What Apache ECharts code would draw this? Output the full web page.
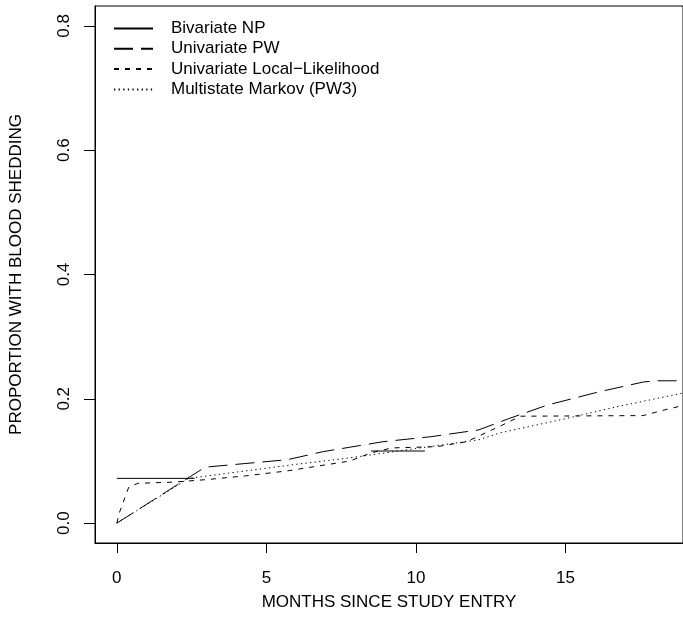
<!DOCTYPE html>
<html>
<head>
<meta charset="utf-8">
<script src="https://cdn.jsdelivr.net/npm/echarts@6/dist/echarts.min.js"></script>
<style>
  html, body { margin: 0; padding: 0; background: #fff; }
  #chart { width: 683px; height: 629px; }
</style>
</head>
<body>
<div id="chart"></div>
<script>
// Cumulative proportion with blood shedding by months since study entry
const seriesNames = [
  'Bivariate NP',
  'Univariate PW',
  'Univariate Local\u2212Likelihood',
  'Multistate Markov (PW3)'
];

// Bivariate nonparametric step estimate (null = no estimate drawn)
const bivariateNP = [
  [0, 0.072], [2.6, 0.072], null,
  [8.5, 0.116], [10.3, 0.116]
];

// Univariate piecewise estimate
const univariatePW = [
  [0, 0.0], [2.95, 0.090], [5.7, 0.102], [6.9, 0.115], [8.9, 0.131],
  [10.5, 0.139], [12.1, 0.150], [13.1, 0.168], [14.4, 0.190],
  [16.1, 0.211], [17.6, 0.227], [18.0, 0.229], [19.0, 0.229]
];

// Univariate local-likelihood estimate
const localLikelihood = [
  [0, 0.0], [0.08, 0.016], [0.4, 0.058], [0.7, 0.064], [1.9, 0.066],
  [3.0, 0.070], [4.3, 0.076], [5.7, 0.084], [7.8, 0.100], [8.5, 0.113],
  [9.2, 0.121], [10.7, 0.123], [11.7, 0.131], [12.9, 0.158],
  [13.5, 0.172], [17.6, 0.173], [18.3, 0.182], [19.0, 0.190]
];

// Multistate Markov model (PW3)
const markovPW3 = [
  [0, 0.0], [2.4, 0.072], [5.9, 0.094], [7.8, 0.105], [10.0, 0.120],
  [12.1, 0.134], [12.8, 0.145], [15.0, 0.168], [16.7, 0.187],
  [18.3, 0.203], [19.0, 0.210]
];

const xTicks = [0, 5, 10, 15];
const yTicks = [0.0, 0.2, 0.4, 0.6, 0.8];

const FONT = 'Liberation Sans, Arial, Helvetica, sans-serif';
const INK = '#000';
const CLEAR = 'rgba(0,0,0,0)';

function lineSeries(name, data, dash, width) {
  return {
    name: name,
    type: 'line',
    data: data,
    showSymbol: false,
    symbol: 'none',
    connectNulls: false,
    animation: false,
    clip: true,
    lineStyle: { color: INK, width: width, type: dash },
    itemStyle: { color: INK }
  };
}

const chart = echarts.init(document.getElementById('chart'), null, { renderer: 'canvas' });

chart.setOption({
  animation: false,
  backgroundColor: '#fff',
  grid: {
    show: true,
    left: 95, top: 6, width: 605, height: 537,
    borderColor: INK, borderWidth: 1,
    backgroundColor: 'transparent'
  },
  legend: {
    orient: 'vertical',
    left: 113, top: 20,
    padding: 0,
    itemWidth: 39, itemHeight: 14,
    itemGap: 3.3,
    // line sample only, no marker in the key
    itemStyle: { color: CLEAR, borderColor: CLEAR, borderWidth: 0, opacity: 0 },
    textStyle: {
      fontFamily: FONT, fontSize: 17, color: INK,
      lineHeight: 17, padding: [0, 0, 0, 13]
    },
    data: seriesNames
  },
  xAxis: {
    type: 'value',
    min: -0.73, max: 18.93,
    name: 'MONTHS SINCE STUDY ENTRY',
    nameLocation: 'middle',
    nameGap: 51,
    nameTextStyle: { fontFamily: FONT, fontSize: 17, color: INK },
    axisLine: { show: true, onZero: false, lineStyle: { color: INK, width: 1 } },
    axisTick: { show: true, length: 10, inside: false, customValues: xTicks, lineStyle: { color: INK } },
    axisLabel: {
      customValues: xTicks, margin: 27,
      fontFamily: FONT, fontSize: 17, color: INK,
      formatter: v => String(v)
    },
    splitLine: { show: false }
  },
  yAxis: {
    type: 'value',
    min: -0.032, max: 0.832,
    name: 'PROPORTION WITH BLOOD SHEDDING',
    nameLocation: 'middle',
    nameGap: 70,
    nameRotate: 90,
    nameTextStyle: { fontFamily: FONT, fontSize: 17, color: INK },
    axisLine: { show: true, onZero: false, lineStyle: { color: INK, width: 1 } },
    axisTick: { show: true, length: 11, customValues: yTicks, lineStyle: { color: INK } },
    axisLabel: {
      customValues: yTicks, margin: 22, rotate: 90,
      fontFamily: FONT, fontSize: 17, color: INK,
      formatter: v => v.toFixed(1)
    },
    splitLine: { show: false }
  },
  series: [
    lineSeries(seriesNames[0], bivariateNP, 'solid', 1),
    lineSeries(seriesNames[1], univariatePW, [19, 8], 1),
    lineSeries(seriesNames[2], localLikelihood, [5, 6], 1),
    lineSeries(seriesNames[3], markovPW3, [1.3, 3.3], 1)
  ]
});
</script>
</body>
</html>
